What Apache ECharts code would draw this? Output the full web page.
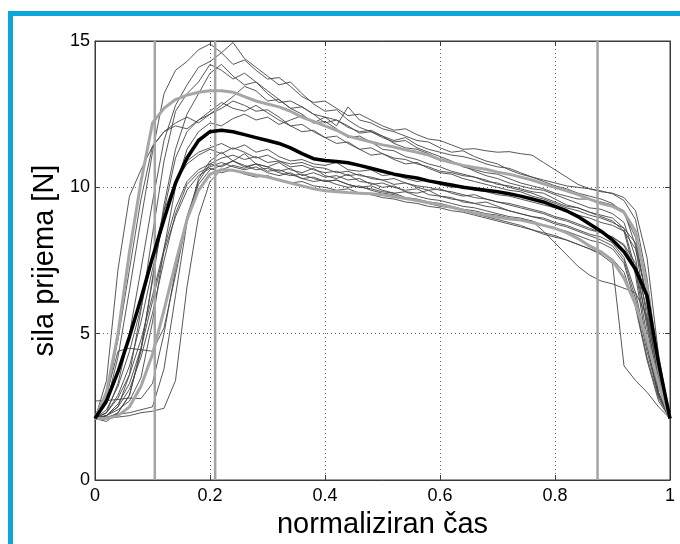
<!DOCTYPE html>
<html>
<head>
<meta charset="utf-8">
<script src="https://cdn.jsdelivr.net/npm/echarts@6/dist/echarts.min.js"></script>
<style>html,body{margin:0;padding:0;background:#fff;}#c{width:680px;height:544px;}</style>
</head>
<body>
<div id="c"></div>
<script>
// normalized time samples
const xs = [0, 0.02, 0.04, 0.06, 0.08, 0.1, 0.12, 0.14, 0.16, 0.18,
  0.2, 0.22, 0.24, 0.26, 0.28, 0.3, 0.32, 0.34, 0.36, 0.38,
  0.4, 0.42, 0.44, 0.46, 0.48, 0.5, 0.52, 0.54, 0.56, 0.58,
  0.6, 0.62, 0.64, 0.66, 0.68, 0.7, 0.72, 0.74, 0.76, 0.78,
  0.8, 0.82, 0.84, 0.86, 0.88, 0.9, 0.92, 0.94, 0.96, 0.98, 1];

const xTicks = [0, 0.2, 0.4, 0.6, 0.8, 1];
const yTicks = [0, 5, 10, 15];
const phaseLines = [0.104, 0.209, 0.874];

// overall mean (black)
const meanAll = [2.1, 2.7, 3.7, 4.9, 6.2, 7.6, 8.9, 10.15, 11.0, 11.6,
  11.9, 11.95, 11.9, 11.8, 11.7, 11.6, 11.5, 11.35, 11.15, 10.98,
  10.92, 10.88, 10.84, 10.75, 10.65, 10.55, 10.45, 10.38, 10.32, 10.22,
  10.15, 10.08, 10.0, 9.95, 9.9, 9.85, 9.78, 9.7, 9.6, 9.5,
  9.35, 9.2, 9.0, 8.75, 8.5, 8.2, 7.8, 7.2, 6.3, 4.0, 2.1];

// group means (grey thick)
const meanHigh = [2.1, 3.0, 5.0, 7.8, 10.2, 12.2, 12.7, 13.0, 13.15, 13.25,
  13.3, 13.3, 13.25, 13.1, 12.95, 12.85, 12.75, 12.6, 12.4, 12.25,
  12.1, 11.95, 11.75, 11.65, 11.55, 11.45, 11.38, 11.28, 11.2, 11.1,
  10.95, 10.85, 10.75, 10.68, 10.62, 10.52, 10.45, 10.35, 10.25, 10.12,
  10.0, 9.88, 9.75, 9.6, 9.45, 9.35, 9.15, 8.5, 6.6, 3.8, 2.1];
const meanLow = [2.1, 2.1, 2.2, 2.5, 3.2, 4.3, 5.8, 7.4, 8.9, 9.9,
  10.45, 10.6, 10.58, 10.5, 10.42, 10.35, 10.25, 10.15, 10.05, 9.95,
  9.88, 9.85, 9.82, 9.8, 9.78, 9.75, 9.68, 9.62, 9.55, 9.47,
  9.4, 9.32, 9.22, 9.12, 9.05, 8.98, 8.92, 8.88, 8.8, 8.7,
  8.6, 8.45, 8.25, 8.0, 7.8, 7.5, 6.9, 6.0, 4.8, 3.3, 2.1];

// individual trials (thin)
const u1 = [2.1, 2.6, 4.2, 6.5, 8.9, 11.2, 13.2, 14.0, 14.3, 14.7,
  14.9, 14.6, 14.2, 14.35, 14.0, 13.7, 13.75, 13.45, 13.1, 12.9,
  12.95, 12.7, 12.45, 12.5, 12.3, 12.1, 11.95, 12.0, 11.8, 11.65,
  11.6, 11.45, 11.3, 11.32, 11.25, 11.2, 11.22, 11.15, 11.1, 10.85,
  10.6, 10.35, 10.1, 9.95, 9.88, 9.78, 9.55, 8.9, 6.9, 3.9, 2.1];
const u2 = [2.1, 2.3, 3.3, 5.0, 7.2, 9.5, 11.6, 12.8, 13.5, 14.1,
  14.3, 14.6, 14.95, 14.4, 14.1, 13.8, 13.5, 13.6, 13.2, 12.85,
  12.6, 12.65, 12.3, 12.05, 11.9, 11.7, 11.55, 11.6, 11.35, 11.2,
  11.05, 10.9, 10.7, 10.6, 10.5, 10.45, 10.3, 10.15, 10.05, 9.95,
  9.8, 9.7, 9.6, 9.6, 9.5, 9.4, 9.2, 8.0, 5.5, 3.2, 2.1];
const u3 = [2.1, 2.2, 2.5, 3.6, 5.8, 8.4, 10.9, 12.6, 13.2, 13.6,
  14.2, 14.0, 13.7, 13.9, 13.6, 13.2, 12.9, 12.95, 12.75, 12.5,
  12.4, 12.3, 12.1, 11.85, 11.9, 11.75, 11.5, 11.35, 11.3, 11.15,
  10.95, 10.85, 10.75, 10.55, 10.4, 10.3, 10.15, 10.05, 9.95, 9.9,
  9.75, 9.6, 9.45, 9.3, 9.25, 9.1, 8.8, 7.6, 5.2, 3.0, 2.1];
const u4 = [2.1, 2.0, 2.3, 2.9, 4.5, 6.8, 9.2, 11.0, 11.9, 12.3,
  12.5, 12.8, 13.1, 13.45, 13.3, 12.95, 13.0, 12.7, 12.5, 12.2,
  12.25, 12.0, 11.7, 11.75, 11.55, 11.3, 11.25, 11.05, 10.95, 10.8,
  10.7, 10.55, 10.45, 10.35, 10.2, 10.15, 10.0, 9.9, 9.8, 9.65,
  9.5, 9.35, 9.3, 9.15, 9.05, 8.95, 8.6, 7.2, 4.9, 3.0, 2.1];
const u5 = [2.1, 2.8, 4.8, 7.2, 9.6, 11.4, 11.9, 12.1, 12.0, 12.3,
  12.6, 12.9, 12.7, 12.6, 12.8, 12.55, 12.3, 12.1, 12.15, 11.9,
  11.7, 11.75, 11.5, 11.3, 11.35, 11.15, 11.0, 10.95, 10.8, 10.7,
  10.55, 10.5, 10.4, 10.35, 10.25, 10.1, 10.05, 9.95, 9.85, 9.8,
  9.6, 9.4, 9.3, 9.15, 9.0, 8.85, 8.5, 7.0, 4.6, 2.9, 2.1];
const u6 = [2.1, 2.2, 2.4, 2.7, 3.5, 5.4, 7.9, 10.0, 11.3, 11.9,
  12.2, 12.1, 12.35, 12.5, 12.3, 12.4, 12.15, 12.3, 12.45, 12.2,
  12.4, 12.1, 12.75, 12.3, 12.2, 12.0, 11.9, 11.75, 11.6, 11.55,
  11.35, 11.2, 11.25, 11.05, 10.9, 10.8, 10.6, 10.45, 10.35, 10.2,
  10.05, 9.95, 9.8, 9.7, 9.6, 9.45, 9.1, 8.3, 6.0, 3.4, 2.1];
const u7 = [2.1, 2.1, 2.3, 2.9, 4.4, 6.9, 9.4, 11.3, 12.5, 13.2,
  13.9, 14.2, 13.8, 13.5, 13.6, 13.3, 13.0, 12.7, 12.75, 12.5,
  12.2, 12.3, 12.05, 11.9, 11.95, 11.75, 11.6, 11.7, 11.45, 11.3,
  11.2, 11.1, 11.05, 10.95, 10.8, 10.7, 10.65, 10.5, 10.35, 10.25,
  10.15, 10.05, 10.0, 9.95, 9.85, 9.8, 9.65, 9.2, 7.6, 4.3, 2.1];
const u8 = [2.1, 3.4, 7.2, 9.7, 10.6, 11.4, 11.9, 12.2, 12.4, 12.2,
  12.5, 12.7, 12.95, 12.8, 12.6, 12.65, 12.4, 12.1, 11.9, 11.95,
  11.7, 11.5, 11.55, 11.3, 11.1, 11.15, 10.95, 10.8, 10.85, 10.65,
  10.5, 10.45, 10.3, 10.2, 10.1, 10.0, 9.9, 9.85, 9.7, 9.6,
  9.45, 9.3, 9.2, 9.05, 8.95, 8.8, 8.6, 8.1, 6.2, 3.5, 2.1];
const l1 = [2.7, 2.72, 2.75, 2.8, 2.78, 3.3, 5.0, 7.2, 9.0, 10.2,
  10.8, 11.0, 11.1, 10.95, 11.05, 10.85, 10.9, 10.7, 10.75, 10.6,
  10.5, 10.55, 10.4, 10.45, 10.3, 10.25, 10.1, 10.15, 10.0, 9.9,
  9.95, 9.8, 9.7, 9.75, 9.6, 9.5, 9.45, 9.35, 9.25, 9.15,
  9.0, 8.9, 8.75, 8.6, 8.45, 8.3, 8.0, 7.2, 5.4, 3.2, 2.1];
const l2 = [2.1, 2.15, 2.25, 2.3, 2.4, 2.5, 3.8, 6.3, 8.8, 10.3,
  10.9, 11.2, 10.9, 11.15, 10.8, 10.7, 10.85, 10.6, 10.5, 10.65,
  10.4, 10.3, 10.45, 10.2, 10.15, 10.0, 10.05, 9.85, 9.8, 9.9,
  9.7, 9.6, 9.55, 9.45, 9.5, 9.35, 9.2, 9.1, 9.0, 8.95,
  8.8, 8.7, 8.55, 8.4, 8.3, 8.1, 7.6, 6.4, 4.6, 2.9, 2.1];
const l3 = [2.1, 2.9, 4.4, 4.5, 4.45, 4.4, 5.2, 7.0, 8.9, 10.1,
  10.6, 10.75, 10.9, 10.7, 10.8, 10.55, 10.6, 10.45, 10.3, 10.35,
  10.2, 10.25, 10.1, 10.0, 10.05, 9.9, 9.8, 9.85, 9.7, 9.6,
  9.55, 9.45, 9.35, 9.3, 9.2, 9.1, 9.0, 8.95, 8.85, 8.7,
  8.6, 8.5, 8.35, 8.2, 8.1, 7.9, 7.4, 6.0, 4.2, 2.8, 2.1];
const l4 = [2.1, 2.1, 2.15, 2.2, 2.3, 2.35, 2.45, 3.4, 6.6, 9.0,
  10.2, 10.6, 10.75, 10.65, 10.8, 10.7, 10.55, 10.65, 10.4, 10.5,
  10.35, 10.4, 10.25, 10.3, 10.1, 10.15, 10.0, 9.9, 9.95, 9.75,
  9.7, 9.65, 9.5, 9.45, 9.35, 9.3, 9.2, 9.1, 9.0, 8.9,
  8.75, 8.65, 8.5, 8.35, 8.2, 8.0, 7.5, 6.2, 4.4, 2.9, 2.1];
const l5 = [2.1, 2.4, 3.2, 4.4, 5.9, 7.6, 9.2, 10.2, 10.8, 11.1,
  11.3, 11.15, 11.35, 11.2, 11.0, 11.1, 10.9, 10.8, 10.85, 10.7,
  10.65, 10.5, 10.55, 10.4, 10.35, 10.25, 10.3, 10.15, 10.05, 10.0,
  9.9, 9.85, 9.75, 9.65, 9.6, 9.5, 9.4, 9.3, 9.2, 9.1,
  8.95, 8.85, 8.7, 8.55, 8.45, 8.3, 8.05, 7.4, 5.8, 3.4, 2.1];
const l6 = [2.1, 2.3, 2.8, 3.6, 4.8, 6.3, 7.9, 9.3, 10.2, 10.6,
  10.8, 10.7, 10.9, 10.75, 10.6, 10.65, 10.5, 10.4, 10.45, 10.3,
  10.2, 10.25, 10.1, 10.0, 9.95, 9.85, 9.8, 9.65, 9.6, 9.5,
  9.45, 9.35, 9.25, 9.2, 9.1, 9.05, 8.95, 8.9, 8.85, 8.5,
  8.1, 7.7, 7.3, 7.0, 6.8, 6.7, 6.55, 6.4, 5.6, 3.6, 2.1];
const l7 = [2.1, 2.2, 2.5, 3.1, 4.2, 5.7, 7.5, 9.1, 10.1, 10.5,
  10.7, 10.85, 10.7, 10.6, 10.7, 10.5, 10.4, 10.5, 10.3, 10.2,
  10.25, 10.1, 10.0, 10.05, 9.9, 9.8, 9.75, 9.6, 9.55, 9.45,
  9.35, 9.3, 9.2, 9.1, 9.0, 8.9, 8.8, 8.7, 8.55, 8.4,
  8.3, 8.2, 8.05, 7.9, 7.7, 7.4, 3.9, 3.4, 3.0, 2.5, 2.1];
const l8 = [2.1, 2.2, 2.6, 3.3, 4.5, 6.1, 7.8, 9.0, 9.9, 10.4,
  10.65, 10.5, 10.6, 10.45, 10.35, 10.4, 10.25, 10.15, 10.2, 10.05,
  10.0, 9.9, 9.95, 9.8, 9.75, 9.65, 9.6, 9.5, 9.45, 9.35,
  9.3, 9.2, 9.15, 9.05, 8.95, 8.85, 8.75, 8.65, 8.55, 8.45,
  8.35, 8.2, 8.05, 7.9, 7.75, 7.55, 7.1, 5.9, 4.1, 2.7, 2.1];
const l9 = [2.1, 2.3, 2.9, 3.9, 5.4, 7.2, 8.9, 10.2, 10.9, 11.2,
  11.35, 11.5, 11.3, 11.45, 11.2, 11.3, 11.05, 10.9, 10.95, 10.8,
  10.75, 10.85, 10.6, 10.55, 10.6, 10.4, 10.45, 10.3, 10.2, 10.25,
  10.1, 10.0, 10.05, 9.9, 9.85, 9.75, 9.7, 9.6, 9.5, 9.4,
  9.3, 9.2, 9.05, 8.95, 8.8, 8.7, 8.5, 7.9, 6.3, 3.7, 2.1];

const trials = [u1, u2, u3, u4, u5, u6, u7, u8, l1, l2, l3, l4, l5, l6, l7, l8, l9];

const FONT = 'Liberation Sans, Arial, Helvetica, sans-serif';
const pair = arr => xs.map((x, i) => [x, arr[i]]);

const series = [];
trials.forEach(t => series.push({
  type: 'line', data: pair(t), symbol: 'none', z: 2, silent: true,
  lineStyle: { color: '#454545', width: 0.9 }
}));
phaseLines.forEach(v => series.push({
  type: 'line', xAxisIndex: 1, yAxisIndex: 1,
  data: [[v, yTicks[0]], [v, yTicks[yTicks.length - 1]]], symbol: 'none', z: 3, silent: true,
  lineStyle: { color: '#a4a4a4', width: 2.5 }
}));
[meanHigh, meanLow].forEach(m => series.push({
  type: 'line', data: pair(m), symbol: 'none', z: 4, silent: true,
  lineStyle: { color: '#a6a6a6', width: 3 }
}));
series.push({
  type: 'line', data: pair(meanAll), symbol: 'none', z: 5, silent: true,
  lineStyle: { color: '#000000', width: 3.5 }
});

const axisCommon = {
  type: 'value',
  axisLine: { show: true, onZero: false, lineStyle: { color: '#3a3a3a', width: 1 } },
  axisTick: { show: true, inside: true, length: 5, lineStyle: { color: '#3a3a3a' } }
};

const chart = echarts.init(document.getElementById('c'), null, { renderer: 'canvas' });
chart.setOption({
  animation: false,
  backgroundColor: '#ffffff',
  grid: { left: 95, right: 10, top: 41, bottom: 62, show: true, borderColor: '#3a3a3a', borderWidth: 1, backgroundColor: 'transparent' },
  xAxis: [
    Object.assign({}, axisCommon, {
      min: xTicks[0], max: xTicks[xTicks.length - 1], interval: 0.2, position: 'bottom',
      axisLabel: { color: '#000', fontSize: 18, fontFamily: FONT, margin: 7 },
      splitLine: { show: true, lineStyle: { color: '#666', type: [1, 3], width: 1 } },
      name: 'normaliziran čas', nameLocation: 'middle', nameGap: 30,
      nameTextStyle: { color: '#000', fontSize: 29, fontFamily: FONT }
    }),
    Object.assign({}, axisCommon, {
      show: true, min: xTicks[0], max: xTicks[xTicks.length - 1], interval: 0.2, position: 'top',
      axisLabel: { show: false }, splitLine: { show: false }
    })
  ],
  yAxis: [
    Object.assign({}, axisCommon, {
      min: yTicks[0], max: yTicks[yTicks.length - 1], interval: 5, position: 'left',
      axisLabel: { color: '#000', fontSize: 18, fontFamily: FONT, margin: 5 },
      splitLine: { show: true, lineStyle: { color: '#666', type: [1, 3], width: 1 } },
      name: 'sila prijema [N]', nameLocation: 'middle', nameGap: 36, nameRotate: 90,
      nameTextStyle: { color: '#000', fontSize: 29, fontFamily: FONT }
    }),
    Object.assign({}, axisCommon, {
      show: true, min: yTicks[0], max: yTicks[yTicks.length - 1], interval: 5, position: 'right',
      axisLabel: { show: false }, splitLine: { show: false }
    })
  ],
  graphic: [
    { type: 'rect', z: 100, shape: { x: 8, y: 11, width: 672, height: 5 }, style: { fill: '#0aa7d8' } },
    { type: 'rect', z: 100, shape: { x: 8, y: 11, width: 5, height: 533 }, style: { fill: '#0aa7d8' } }
  ],
  series: series
});
</script>
</body>
</html>
